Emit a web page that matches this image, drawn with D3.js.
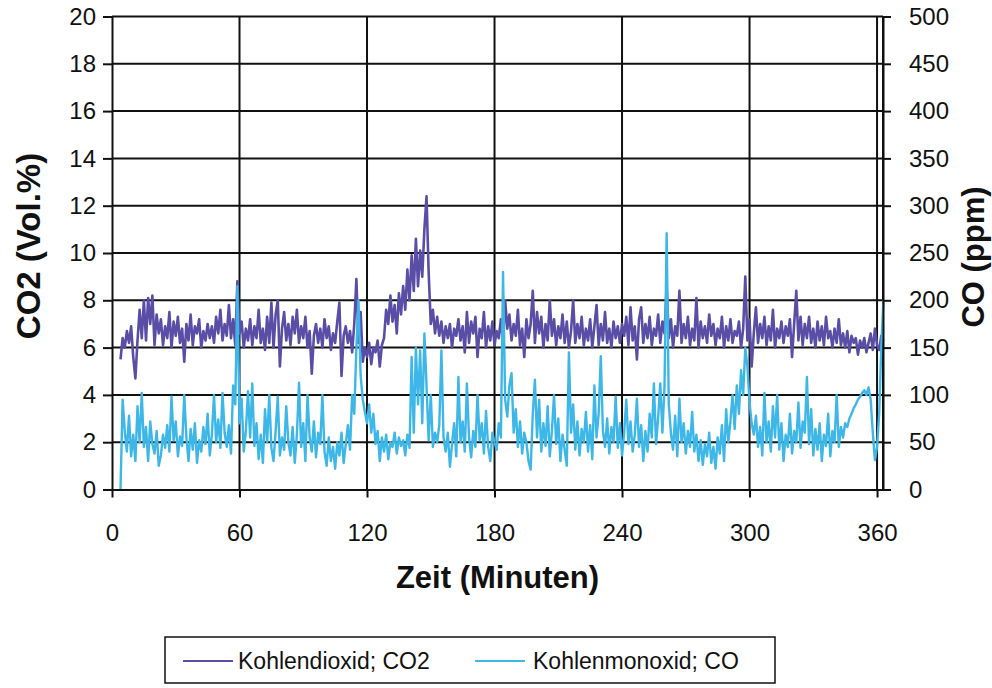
<!DOCTYPE html>
<html>
<head>
<meta charset="utf-8">
<script src="https://cdn.jsdelivr.net/npm/d3@7"></script>
<style>
  body { margin: 0; background: #fff; }
  svg { display: block; }
  text { font-family: "Liberation Sans", Arial, sans-serif; fill: #111; }
</style>
</head>
<body>
<svg id="chart" width="992" height="688"></svg>
<script>
// Measurement log: one reading per minute, starting at minute 4
const startMinute = 4;

// Kohlendioxid, Vol.-%
const co2Values = [
  5.5, 6.4, 6.0, 6.7, 6.2, 6.9, 5.6, 4.7, 6.3, 7.6,
  6.4, 8.0, 6.3, 8.1, 7.0, 8.2, 6.1, 7.4, 6.6, 7.2,
  6.1, 6.9, 6.4, 7.5, 6.0, 7.1, 6.5, 7.3, 6.2, 6.8,
  5.4, 7.0, 6.3, 7.4, 6.1, 6.9, 6.6, 7.2, 6.0, 6.7,
  6.3, 7.0, 6.4, 6.9, 6.2, 7.3, 6.6, 7.6, 6.3, 7.0,
  6.5, 7.8, 6.4, 7.2, 6.1, 8.8, 6.6, 7.1, 6.0, 6.8,
  6.3, 7.2, 6.1, 6.9, 6.4, 7.6, 6.2, 6.8, 5.9, 7.3,
  6.2, 7.9, 6.0, 7.4, 8.0, 5.2, 6.8, 7.5, 6.3, 7.0,
  6.1, 7.3, 6.6, 7.6, 6.2, 6.9, 6.4, 7.3, 6.0, 6.7,
  4.9, 6.5, 7.0, 6.2, 6.8, 6.0, 7.2, 6.4, 6.9, 5.9,
  6.6, 6.2, 7.1, 7.9, 4.8, 6.5, 6.9, 6.2, 6.7, 5.8,
  7.0, 8.9, 6.2, 7.5, 5.4, 6.0, 5.6, 6.2, 5.3, 6.0,
  5.8, 6.3, 5.2, 6.1, 6.4, 7.6, 7.0, 8.2, 7.1, 7.8,
  6.6, 8.3, 7.4, 8.6, 7.6, 9.3, 8.0, 9.9, 8.4, 10.6,
  8.6, 10.1, 9.0, 11.0, 12.4, 9.2, 7.0, 7.6, 6.6, 7.3,
  6.5, 7.1, 6.2, 6.9, 6.4, 7.0, 6.0, 6.8, 6.5, 7.2,
  6.3, 6.9, 5.8, 7.5, 6.2, 7.1, 6.6, 7.3, 5.6, 6.8,
  6.4, 7.5, 6.0, 6.9, 6.3, 7.1, 6.1, 6.7, 6.4, 7.2,
  6.2, 8.0, 6.8, 7.4, 6.3, 7.0, 6.5, 7.6, 6.1, 6.8,
  5.6, 7.2, 6.4, 7.0, 8.4, 6.2, 7.5, 6.6, 7.3, 6.0,
  7.0, 6.3, 8.0, 6.5, 7.2, 6.1, 6.9, 6.4, 7.4, 6.2,
  7.1, 6.0, 6.7, 8.0, 6.2, 7.0, 6.4, 7.3, 6.1, 6.8,
  6.3, 7.2, 6.0, 6.9, 7.8, 6.1, 7.0, 6.3, 7.5, 6.2,
  6.8, 6.0, 7.1, 6.4, 6.9, 6.2, 7.0, 6.5, 7.3, 6.1,
  7.7, 6.3, 6.9, 5.5, 7.2, 7.7, 6.2, 7.0, 6.4, 7.3,
  6.1, 6.8, 6.5, 7.4, 6.2, 7.1, 6.6, 8.6, 6.4, 7.2,
  6.0, 6.9, 6.5, 8.4, 6.2, 7.0, 6.4, 7.3, 6.1, 6.8,
  6.3, 8.1, 6.0, 7.1, 6.4, 6.9, 6.2, 7.4, 6.5, 7.0,
  6.1, 6.8, 6.4, 7.3, 6.0, 6.9, 6.3, 7.2, 6.2, 6.7,
  6.5, 7.1, 6.0, 6.8, 9.0, 6.3, 7.2, 5.2, 6.6, 7.7,
  6.2, 7.0, 6.4, 7.3, 6.1, 6.9, 6.3, 7.6, 6.0, 6.8,
  6.4, 7.1, 6.2, 6.9, 6.5, 7.2, 5.6, 7.0, 8.4, 6.3,
  7.3, 6.1, 7.0, 6.4, 7.3, 6.2, 6.8, 6.0, 7.1, 6.3,
  6.9, 6.1, 7.3, 6.4, 6.7, 6.0, 6.8, 6.2, 7.2, 6.1,
  6.6, 6.0, 6.7, 5.8, 6.5, 6.2, 6.4, 5.7, 6.3, 6.0,
  6.4, 5.8, 6.2, 6.6, 5.9, 6.8, 6.1, 5.9, 6.5, 6.3
];

// Kohlenmonoxid, ppm
const coValues = [
  0, 95, 62, 40, 78, 35, 58, 30, 88, 50,
  102, 45, 66, 30, 72, 48, 38, 62, 25, 36,
  58, 44, 68, 40, 98, 52, 72, 35, 56, 46,
  100, 55, 30, 64, 42, 70, 28, 52, 40, 66,
  48, 80, 36, 58, 100, 50, 74, 44, 102, 60,
  45, 68, 38, 110, 90, 215, 70, 96, 40, 62,
  104, 55, 112, 46, 70, 32, 58, 28, 85, 50,
  100, 44, 30, 62, 98, 36, 55, 42, 88, 50,
  36, 66, 28, 58, 113, 45, 70, 30, 100, 55,
  40, 72, 34, 60, 48, 100, 40, 25, 55, 30,
  45, 22, 50, 36, 60, 28, 48, 68, 42, 100,
  80, 150, 200, 120, 95, 82, 70, 90, 60, 80,
  48, 62, 30, 55, 40, 58, 32, 50, 45, 60,
  38, 55, 46, 52, 36, 58, 44, 140, 60, 150,
  90, 147, 70, 165, 110, 52, 100, 45, 60, 50,
  68, 147, 55, 40, 60, 24, 48, 70, 35, 119,
  50, 72, 40, 112, 55, 34, 62, 45, 100, 52,
  70, 38, 83, 45, 30, 60, 50, 42, 70, 55,
  230, 95, 77, 110, 123, 60, 85, 45, 72, 38,
  60, 50, 30, 21, 80, 116, 55, 95, 40, 70,
  46, 88, 35, 62, 100, 48, 75, 30, 58, 42,
  25, 145, 60, 90, 42, 72, 36, 64, 50, 82,
  40, 68, 32, 110, 55, 80, 141, 62, 45, 75,
  38, 66, 50, 98, 44, 70, 36, 60, 95, 48,
  72, 40, 58, 96, 45, 68, 30, 62, 40, 80,
  55, 112, 48, 76, 112, 60, 110, 271, 90, 60,
  42, 78, 35, 96, 50, 70, 38, 62, 45, 82,
  40, 58, 30, 52, 26, 48, 35, 60, 28, 45,
  22, 55, 38, 68, 30, 85, 50, 72, 100, 64,
  110, 80, 126, 100, 150, 130, 92, 70, 58, 78,
  45, 66, 36, 102, 50, 72, 40, 88, 55, 100,
  42, 70, 30, 58, 45, 80, 38, 62, 50, 92,
  44, 72, 60, 119, 48, 85, 36, 64, 42, 70,
  30, 58, 46, 80, 35, 62, 50, 100, 45, 66,
  55, 70, 66, 75, 80, 86, 90, 95, 98, 102,
  105, 100, 108, 95, 60, 31, 45, 80, 150, 200
];

const minuteTicks = [0, 60, 120, 180, 240, 300, 360];
const co2Ticks = [0, 2, 4, 6, 8, 10, 12, 14, 16, 18, 20];
const coTicks = [0, 50, 100, 150, 200, 250, 300, 350, 400, 450, 500];
const seriesNames = ["Kohlendioxid; CO2", "Kohlenmonoxid; CO"];
const seriesColors = ["#5a4da6", "#3db6e8"];

const minutes = co2Values.map((_, i) => startMinute + i);

const svg = d3.select("#chart");
const plot = { left: 112, right: 883, top: 16.5, bottom: 489.5 };

const x = d3.scaleLinear().domain([0, 362.8]).range([plot.left, plot.right]);
const yCo2 = d3.scaleLinear().domain([0, 20]).range([plot.bottom, plot.top]);
const yCo = d3.scaleLinear().domain([0, 500]).range([plot.bottom, plot.top]);

// grid
const grid = svg.append("g").attr("stroke", "#111").attr("stroke-width", 2);
grid.selectAll("line.h").data(co2Ticks.filter(d => d > 0)).join("line")
  .attr("x1", plot.left).attr("x2", plot.right)
  .attr("y1", d => yCo2(d)).attr("y2", d => yCo2(d));
grid.selectAll("line.v").data(minuteTicks.filter(d => d > 0)).join("line")
  .attr("y1", plot.top).attr("y2", plot.bottom)
  .attr("x1", d => x(d)).attr("x2", d => x(d));
grid.append("line").attr("x1", plot.right).attr("x2", plot.right)
  .attr("y1", plot.top).attr("y2", plot.bottom);

// series
const co2Line = d3.line().x((d, i) => x(minutes[i])).y(d => yCo2(d));
const coLine = d3.line().x((d, i) => x(minutes[i])).y(d => yCo(d));

svg.append("path").datum(co2Values)
  .attr("fill", "none").attr("stroke", seriesColors[0])
  .attr("stroke-width", 2.6).attr("stroke-linejoin", "round")
  .attr("d", co2Line);
svg.append("path").datum(coValues)
  .attr("fill", "none").attr("stroke", seriesColors[1])
  .attr("stroke-width", 2.4).attr("stroke-linejoin", "round")
  .attr("d", coLine);

// axes
function styleAxis(g) {
  g.selectAll("path.domain").attr("stroke", "#111").attr("stroke-width", 2);
  g.selectAll(".tick line").attr("stroke", "#111").attr("stroke-width", 2);
  g.selectAll(".tick text").attr("font-size", 24).attr("fill", "#111")
    .attr("font-family", "Liberation Sans, Arial, sans-serif");
}

svg.append("g").attr("transform", `translate(${plot.left},0)`)
  .call(d3.axisLeft(yCo2).tickValues(co2Ticks).tickSize(9).tickPadding(7).tickSizeOuter(0))
  .call(styleAxis);

svg.append("g").attr("transform", `translate(${plot.right},0)`)
  .call(d3.axisRight(yCo).tickValues(coTicks).tickSize(8).tickPadding(18).tickSizeOuter(0))
  .call(styleAxis);

svg.append("g").attr("transform", `translate(0,${plot.bottom})`)
  .call(d3.axisBottom(x).tickValues(minuteTicks).tickSize(8).tickPadding(26).tickSizeOuter(0))
  .call(styleAxis);

// titles
svg.append("text").attr("x", (plot.left + plot.right) / 2).attr("y", 588)
  .attr("text-anchor", "middle").attr("font-size", 31).attr("font-weight", "bold")
  .text("Zeit (Minuten)");
svg.append("text").attr("transform", "translate(40,246) rotate(-90)")
  .attr("text-anchor", "middle").attr("font-size", 33).attr("font-weight", "bold")
  .text("CO2 (Vol.%)");
svg.append("text").attr("transform", "translate(984,257) rotate(-90)")
  .attr("text-anchor", "middle").attr("font-size", 31).attr("font-weight", "bold")
  .text("CO (ppm)");

// legend
const legend = svg.append("g");
legend.append("rect").attr("x", 165).attr("y", 637).attr("width", 610).attr("height", 46)
  .attr("fill", "#fff").attr("stroke", "#111").attr("stroke-width", 1.5);
const legendItems = [
  { lx: 183, tx: 238 },
  { lx: 475, tx: 533 }
];
legendItems.forEach((p, i) => {
  legend.append("line").attr("x1", p.lx).attr("x2", p.lx + 50)
    .attr("y1", 661).attr("y2", 661)
    .attr("stroke", seriesColors[i]).attr("stroke-width", 2);
  legend.append("text").attr("x", p.tx).attr("y", 669)
    .attr("font-size", 23).text(seriesNames[i]);
});
</script>
</body>
</html>
